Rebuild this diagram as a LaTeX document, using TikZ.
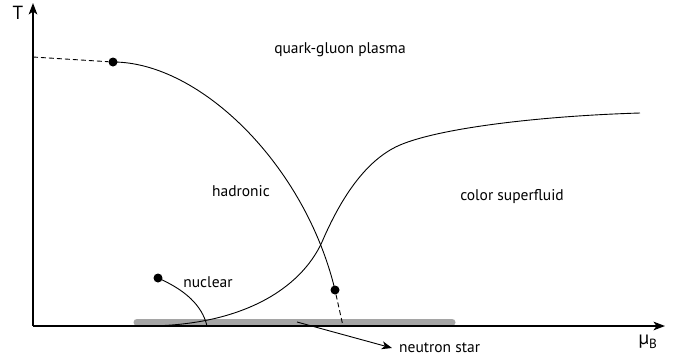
\documentclass[tikz,border=0pt]{standalone}
\usepackage{fontspec}
\setmainfont{PT Sans}
\usetikzlibrary{arrows.meta,positioning}
\definecolor{BandGray}{RGB}{165,165,165}

\begin{document}
\begin{tikzpicture}[
    x=1pt, y=-1pt,
    axis/.style={line width=1.8pt, -{Stealth[length=4mm, width=3mm, inset=1mm]}},
    border/.style={line width=0.9pt},
    extrap/.style={border, dash pattern=on 5pt off 3pt},
    crit/.style={circle, fill=black, inner sep=0pt, minimum size=9pt},
    phase/.style={font=\fontsize{15.5}{18}\selectfont, inner sep=0pt},
    axlabel/.style={font=\fontsize{19}{22}\selectfont, inner sep=0pt},
    band/.style={line width=7pt, line cap=round, draw=BandGray}
  ]
    \useasboundingbox (0,0) rectangle (688,362);
    % band of neutron star matter
    \draw[band] (137,322) -- (452,322);
    % axes
    \coordinate (origin) at (33,326);
    \coordinate (ytop) at (33,3);
    \coordinate (xend) at (665,326);
    \coordinate (tzero) at (33,57);
    \draw[axis] (origin) -- (ytop);
    \draw[axis] (origin) -- (xend);
    \node[axlabel] (tlabel) at (18,13) {T};
    \node[axlabel] (mulabel) at (648,342) {\symbol{"00B5}\textsubscript{B}};
    % critical points
    \node[crit] (cep) at (113,62) {};
    \node[crit] (tri) at (335,290) {};
    \node[crit] (nucl) at (158,278) {};
    \coordinate (trifoot) at (343,326);
    \coordinate (nuclfoot) at (207,326);
    % phase boundaries
    \draw[extrap] (tzero) -- (cep);
    \draw[border] (cep.center) .. controls (200,62) and (305,165) .. (tri.center);
    \draw[extrap] (tri) -- (trifoot);
    \draw[border] (nucl.center) .. controls (185,290) and (202,305) .. (nuclfoot);
    \draw[border] (145,326) .. controls (240,326) and (300,290) .. (322,242)
      .. controls (340,200) and (365,160) .. (400,145)
      .. controls (440,128) and (540,116) .. (640,113);
    % phase labels
    \node[phase] (qgp) at (340,50) {quark-gluon plasma};
    \node[phase] (hadr) at (241,191) {hadronic};
    \node[phase] (csc) at (512,197) {color superfluid};
    \node[phase] (nuc) at (208,282) {nuclear};
    \node[phase, anchor=west] (nstar) at (399,348) {neutron star};
    \draw[border, -{Stealth[length=3.6mm, width=2.8mm, inset=1mm]}] (297,322) -- ([xshift=-7pt]nstar.west);
  \end{tikzpicture}
\end{document}
